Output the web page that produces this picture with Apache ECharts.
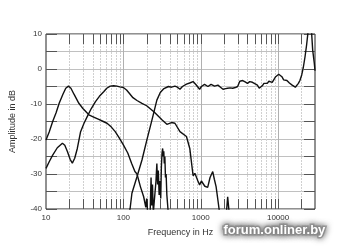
<!DOCTYPE html>
<html><head><meta charset="utf-8">
<script src="https://cdn.jsdelivr.net/npm/echarts@6/dist/echarts.min.js"></script>
<style>html,body{margin:0;padding:0;background:#fff}#c{width:350px;height:250px}</style>
</head><body><div id="c"></div>
<script>
// ---- data ----
const xTickLabels = [10, 100, 1000, 10000];
const yTickLabels = [10, 0, -10, -20, -30, -40];
const minorGridF = [20,30,40,50,60,70,80,90,200,300,400,500,600,700,800,900,2000,3000,4000,5000,6000,7000,8000,9000,20000];
const decadeF = [100, 1000, 10000];

const woofer1F  = [10,11,12.2,13.5,14.8,16.5,18,19.5,21,23,26.6,30,35.8,42,48.1,55,61.5,70,78.5,88,100,114,128,141,150,166,183,195,200,206,222,228,233,238,244,258,264,271,277,283,290,297,304,310,316,322,328,333,338,344,350,357,365,380];
const woofer1dB = [-20.3,-18,-15,-12.5,-9.8,-7.3,-5.5,-4.9,-5.5,-7.2,-9.8,-11.3,-13.1,-13.8,-14.4,-15,-15.5,-16.6,-17.9,-19.6,-21.7,-24,-27,-29.3,-30,-33.6,-36.5,-39.5,-37,-41,-41,-31,-39,-33,-41,-41,-32,-27,-33,-29,-36,-32,-37,-28,-24,-22.7,-25,-23.5,-27,-25,-31,-30,-36,-41];

const woofer2F  = [10,11,12.2,14,16.3,17.5,18.9,20.5,21.9,23.5,25.4,28,31,34.1,38.5,43.6,49,55.7,61,67.6,75,82.5,90,100,110,120,133,150,174,200,250,315,365,420,464,539,564,654,722,797,840,877,920,967,1020,1070,1130,1230,1320,1430,1500,1580,1680,1750,2150,2230,2330];
const woofer2dB = [-28.4,-26.5,-24.6,-22.5,-21.2,-21.8,-23.6,-25.8,-26.9,-25.5,-22.7,-17.9,-15.5,-13.6,-11.3,-9.3,-7.8,-6.5,-5.5,-4.9,-4.8,-4.9,-5.1,-5.3,-6,-7,-8.2,-9,-9.8,-10.5,-12.3,-14.5,-15.8,-15.3,-15.5,-17.9,-18.4,-19.3,-22.7,-30.5,-29.8,-30,-32,-33.1,-32,-32.2,-33.5,-33.8,-31,-29.3,-31.5,-33.6,-38,-41,-41,-36.5,-41];

const tweeterF  = [115,122,129,150,174,201,234,271,300,330,382,420,464,500,539,580,654,720,796,870,967,1020,1120,1240,1300,1360,1510,1670,1800,1940,2100,2230,2400,2590,2800,3000,3200,3490,3750,4020,4300,4660,5000,5400,5700,5950,6250,6560,7250,7600,7990,8400,8810,9300,9700,10200,10700,11200,11800,12400,13000,14000,15200,16000,16700,17500,18300,19200,20200,21200,22300,23400,24500,26000,27000,28000,29400,30000];
const tweeterdB = [-42,-40,-35.5,-30.8,-26,-20.3,-14.6,-8.9,-6.7,-5.7,-5,-5.2,-4.9,-5.2,-5.8,-5,-4.3,-4,-3.6,-4.5,-5.8,-5,-4.4,-5,-5.5,-4.4,-4.9,-4.6,-5.2,-5.8,-5.6,-5.5,-5.4,-5.5,-5.3,-5,-3.5,-3.3,-3.7,-4.1,-3.6,-3.8,-4.2,-4.6,-5.5,-6,-4.8,-4.1,-4.1,-3.5,-3.1,-3.8,-3.6,-2.2,-1.7,-1.5,-1.4,-2.2,-3.1,-3.0,-3.3,-4.0,-4.6,-4.9,-5.2,-4.8,-4.1,-3.2,-1.7,0.5,3.5,7,11,13,11,5.4,1.6,-0.5];

const X_MIN = 10, X_MAX = 30000, Y_MIN = -40, Y_MAX = 10;

const zip = (a, b) => a.map((v, i) => [v, b[i]]);
const gridData = minorGridF.map(f => [f, Y_MIN, 0]).concat(decadeF.map(f => [f, Y_MIN, 1]));

const chart = echarts.init(document.getElementById('c'));
const FONT = 'Liberation Sans, Arial, sans-serif';
const lineStyle = { color: '#111', width: 1.4 };
const mkLine = (f, d) => ({
  type: 'line', data: zip(f, d), showSymbol: false, symbol: 'none', clip: true,
  lineStyle: lineStyle, itemStyle: { color: '#111' }, z: 5, animation: false
});

chart.setOption({
  backgroundColor: '#fff',
  animation: false,
  grid: { left: 43, right: 35, top: 34, bottom: 41, show: true, borderColor: '#222', borderWidth: 1, backgroundColor: 'transparent' },
  xAxis: {
    type: 'log', logBase: 10, min: X_MIN, max: X_MAX,
    name: 'Frequency in Hz', nameLocation: 'middle', nameGap: 19,
    nameTextStyle: { fontFamily: FONT, fontSize: 9, color: '#333' },
    axisLine: { show: false }, axisTick: { show: false }, splitLine: { show: false },
    axisLabel: {
      fontFamily: FONT, fontSize: 8, color: '#333', margin: 5, showMaxLabel: false,
      formatter: v => (xTickLabels.indexOf(Math.round(v)) >= 0 ? String(Math.round(v)) : '')
    }
  },
  yAxis: [{
    type: 'value', min: Y_MIN, max: Y_MAX, interval: 5,
    name: 'Amplitude in dB', nameLocation: 'middle', nameGap: 29, nameRotate: 90,
    nameTextStyle: { fontFamily: FONT, fontSize: 9, color: '#333' },
    axisLine: { show: false },
    axisTick: { show: true, inside: true, length: 11, lineStyle: { color: '#555' } },
    splitLine: { show: true, lineStyle: { color: '#c0c0c0', width: 1 } },
    axisLabel: {
      fontFamily: FONT, fontSize: 8, color: '#333', margin: 4,
      formatter: v => (yTickLabels.indexOf(v) >= 0 ? String(v) : '')
    }
  }, {
    type: 'value', min: Y_MIN, max: Y_MAX, interval: 5, position: 'right',
    axisLine: { show: false },
    axisTick: { show: true, inside: true, length: 11, lineStyle: { color: '#555' } },
    splitLine: { show: false }, axisLabel: { show: false }
  }],
  series: [
    {
      type: 'custom', data: gridData, z: 1, silent: true, clip: false,
      encode: { x: 0, y: 1 },
      renderItem: function (params, api) {
        const f = api.value(0);
        const isDec = api.value(2) === 1;
        const t = api.coord([f, Y_MAX]);
        const b = api.coord([f, Y_MIN]);
        const x = Math.round(t[0]) + 0.5;
        return {
          type: 'group', children: [
            { type: 'line', shape: { x1: x, y1: t[1], x2: x, y2: b[1] },
              style: { stroke: isDec ? '#b0b0b0' : '#d0d0d0', lineWidth: 1, lineDash: isDec ? null : [2, 1] } },
            { type: 'line', shape: { x1: x, y1: t[1], x2: x, y2: t[1] + 10 }, style: { stroke: '#555', lineWidth: 1 } },
            { type: 'line', shape: { x1: x, y1: b[1], x2: x, y2: b[1] - 10 }, style: { stroke: '#555', lineWidth: 1 } }
          ]
        };
      }
    },
    mkLine(woofer1F, woofer1dB),
    mkLine(woofer2F, woofer2dB),
    mkLine(tweeterF, tweeterdB)
  ],
  graphic: [{
    type: 'text', left: 222, top: 222, z: 100,
    style: {
      text: 'forum.onliner.by', fill: '#ffffff', font: 'bold 13px ' + FONT,
      stroke: 'rgba(150,150,150,0.85)', lineWidth: 3,
      textShadowColor: 'rgba(90,90,90,0.9)', textShadowBlur: 6,
      shadowColor: 'rgba(90,90,90,0.9)', shadowBlur: 6
    }
  }]
});
</script></body></html>
